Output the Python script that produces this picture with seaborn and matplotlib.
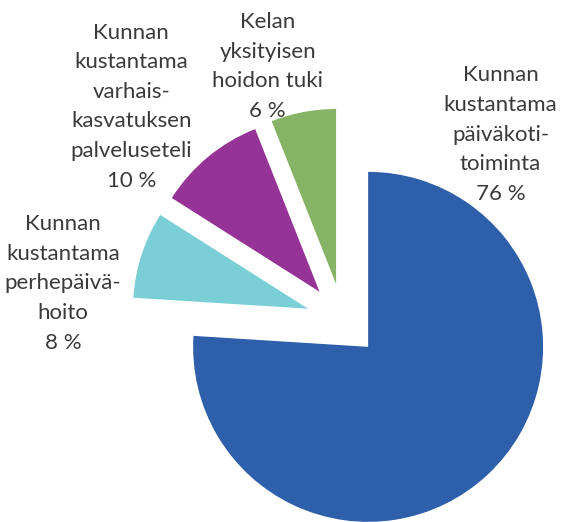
import matplotlib.pyplot as plt
import seaborn as sns

# Osuudet (%)
osuudet = [76, 8, 10, 6]
nimet = [
    "Kunnan\nkustantama\npäiväkoti-\ntoiminta",
    "Kunnan\nkustantama\nperhepäivä-\nhoito",
    "Kunnan\nkustantama\nvarhais-\nkasvatuksen\npalveluseteli",
    "Kelan\nyksityisen\nhoidon tuki",
]
varit = ["#2E5FAA", "#7ACFD6", "#963396", "#86B366"]

# Tekstien paikat (säteen yksiköissä keskipisteestä)
tekstipaikat = [(0.90, 1.06), (-1.60, 0.21), (-1.21, 1.22), (-0.43, 1.45)]

sns.set_theme(style="white")
plt.rcParams['font.family'] = ['Lato', 'DejaVu Sans']

fig = plt.figure(figsize=(5.61, 5.22), dpi=100)
ax = fig.add_axes([0, 0, 1, 1])

ax.pie(osuudet, colors=varit, startangle=90, counterclock=False,
       explode=[0.21] * len(osuudet), radius=1.0,
       wedgeprops=dict(linewidth=0))

for nimi, arvo, (x, y) in zip(nimet, osuudet, tekstipaikat):
    ax.text(x, y, f"{nimi}\n{arvo} %", ha='center', va='center',
            fontsize=16, color='#3a3a3a', linespacing=1.6)

ax.set_xlim(-1.96, 1.246)
ax.set_ylim(-1.154, 1.829)
ax.set_aspect('auto')
ax.axis('off')

plt.savefig('out.png', dpi=100)
